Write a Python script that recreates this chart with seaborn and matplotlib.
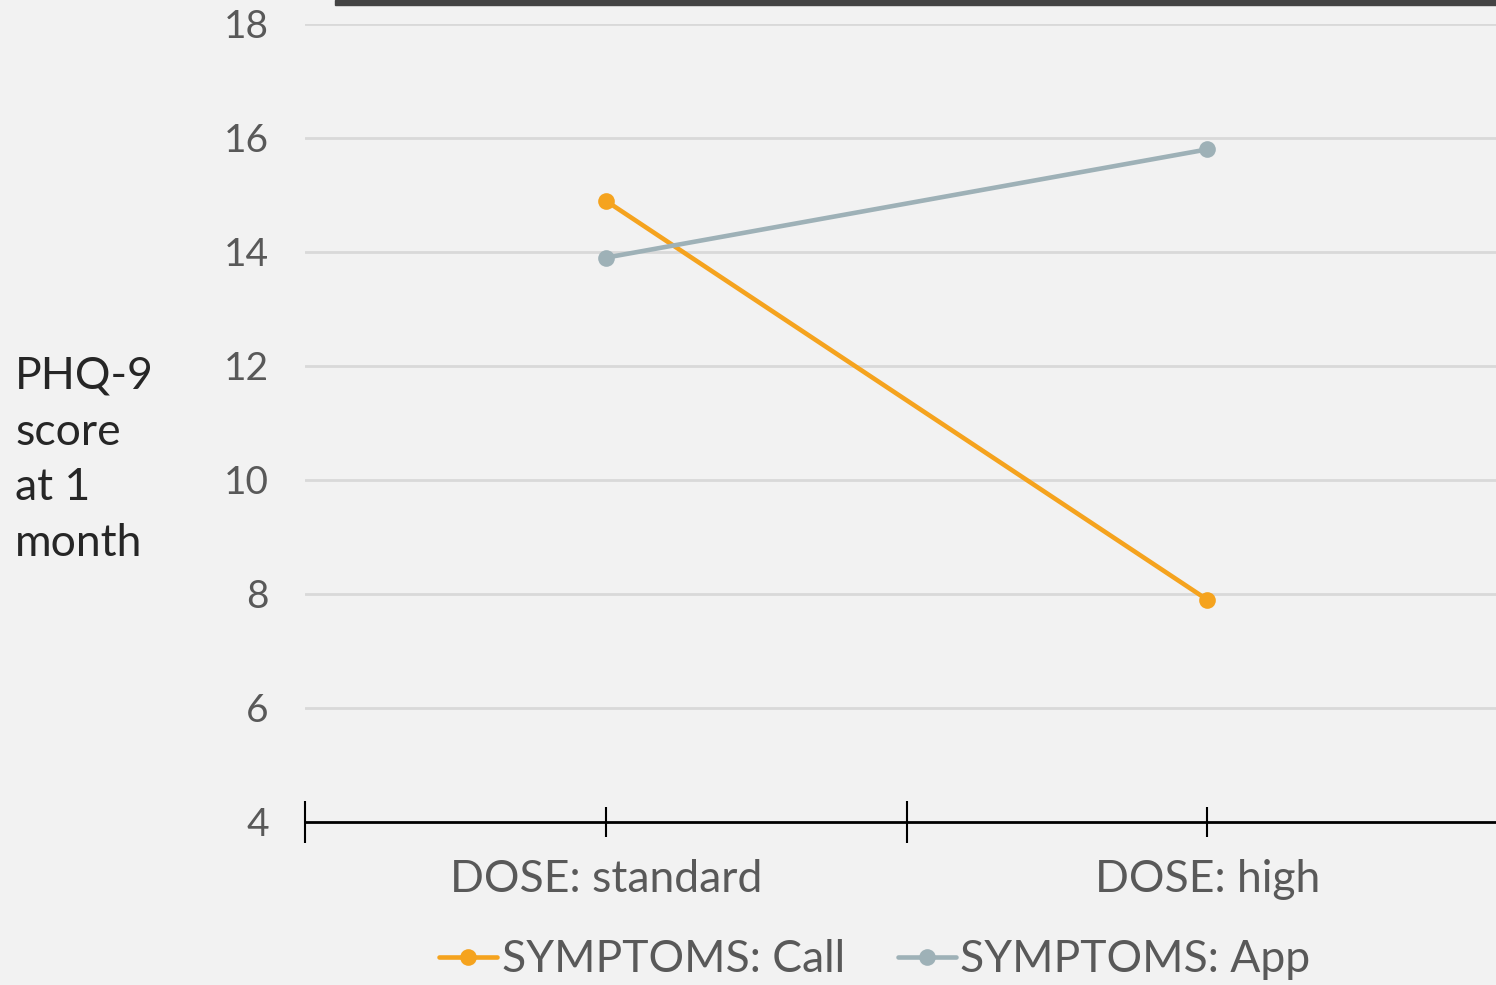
import pandas as pd
import matplotlib.pyplot as plt
import matplotlib.patches as mpatches
import seaborn as sns

# Data
doses = ['DOSE: standard', 'DOSE: high']
call_scores = [14.9, 7.9]
app_scores = [13.9, 15.8]
series_names = ['SYMPTOMS: Call', 'SYMPTOMS: App']
y_ticks = [4, 6, 8, 10, 12, 14, 16, 18]

df = pd.DataFrame({
    'dose': doses * 2,
    'score': call_scores + app_scores,
    'group': [series_names[0]] * 2 + [series_names[1]] * 2,
})

bg = '#f2f2f2'
sns.set_theme(style='white')
plt.rcParams['font.family'] = ['Lato', 'DejaVu Sans']

fig = plt.figure(figsize=(14.96, 9.85), dpi=100, facecolor=bg)
ax = fig.add_axes([305 / 1496, 1 - 822 / 985, (1508 - 305) / 1496, (822 - 24) / 985])
ax.set_facecolor(bg)

palette = {series_names[0]: '#f5a31e', series_names[1]: '#9eb1b7'}
sns.lineplot(data=df, x='dose', y='score', hue='group', palette=palette,
             marker='o', markersize=12, markeredgewidth=0, linewidth=3.3,
             ax=ax, legend=False, zorder=3)

ax.set_ylim(4, 18)
ax.set_xlim(-0.5, 1.5)
ax.set_yticks(y_ticks)
ax.set_yticklabels([str(t) for t in y_ticks], fontsize=28, color='#595959')
for t in y_ticks[1:]:
    ax.axhline(t, color='#d9d9d9', linewidth=2, zorder=1)

ax.set_xticks([0, 1])
ax.set_xticklabels(doses, fontsize=32, color='#595959')
ax.set_xticks([-0.5, 0.5, 1.5], minor=True)
ax.tick_params(axis='x', which='major', direction='inout', length=22, width=1.5,
               color='black', pad=16, bottom=True)
ax.tick_params(axis='x', which='minor', direction='inout', length=30, width=1.5,
               color='black', bottom=True)
ax.tick_params(axis='y', length=0, pad=26)

for side in ['top', 'right', 'left']:
    ax.spines[side].set_visible(False)
ax.spines['bottom'].set_color('black')
ax.spines['bottom'].set_linewidth(2)
ax.set_xlabel('')
ax.set_ylabel('')

fig.text(15 / 1496, 1 - 460 / 985, 'PHQ-9\nscore\nat 1\nmonth', fontsize=32,
         color='#262626', ha='left', va='center', linespacing=1.45)

# dark bar along the top edge
fig.patches.append(mpatches.Rectangle((335 / 1496, 1 - 5 / 985), 1, 5 / 985,
                                      transform=fig.transFigure, color='#444444'))

handles = [plt.Line2D([], [], color=palette[n], linewidth=3.3, marker='o',
                      markersize=12, markeredgewidth=0) for n in series_names]
leg = fig.legend(handles, series_names, loc='center', ncol=2,
                 bbox_to_anchor=(875 / 1496, 1 - 960 / 985), frameon=False,
                 fontsize=32, handlelength=1.3, handletextpad=0.1, columnspacing=1.2)
for t in leg.get_texts():
    t.set_color('#595959')

fig.savefig('out.png', dpi=100, facecolor=bg)
